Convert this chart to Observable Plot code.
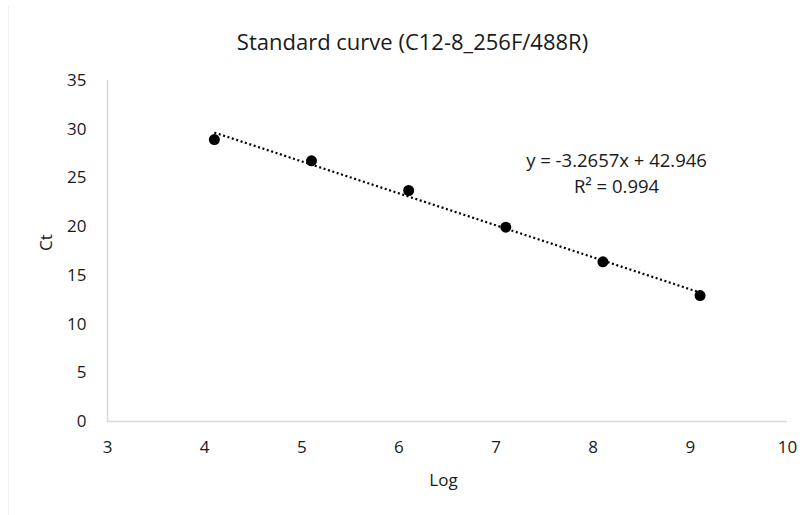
<!DOCTYPE html>
<html>
<head>
<meta charset="utf-8">
<script src="https://cdn.jsdelivr.net/npm/d3@7"></script>
<script src="https://cdn.jsdelivr.net/npm/@observablehq/plot@0.6"></script>
<style>
  html, body { margin: 0; padding: 0; background: #fff; }
  #wrap { position: relative; width: 809px; height: 515px; }
  #wrap::before { content: ""; position: absolute; left: 8px; top: 6px; bottom: 0; width: 1px; background: #efefef; }
  svg { display: block; font-family: "Open Sans", sans-serif; }
</style>
</head>
<body>
<div id="wrap"></div>
<script>
const logValues = [4.1, 5.1, 6.1, 7.1, 8.1, 9.1];
const ctValues = [28.94, 26.76, 23.71, 19.94, 16.39, 12.93];
const xTicks = [3, 4, 5, 6, 7, 8, 9, 10];
const yTicks = [0, 5, 10, 15, 20, 25, 30, 35];
const titleText = "Standard curve (C12-8_256F/488R)";
const equationLines = ["y = -3.2657x + 42.946", "R² = 0.994"];
const equationPos = [{x: 8.24, y: 26.7}, {x: 8.24, y: 24.1}];

const data = logValues.map((x, i) => ({x, y: ctValues[i]}));
const eqData = equationLines.map((t, i) => ({text: t, ...equationPos[i]}));

const chart = Plot.plot({
  width: 809,
  height: 515,
  marginLeft: 107,
  marginRight: 22,
  marginTop: 80,
  marginBottom: 94,
  style: {fontFamily: "Open Sans, sans-serif", fontSize: "17px", color: "#1a1a1a", background: "transparent"},
  x: {domain: [3, 10], label: null},
  y: {domain: [0, 35], label: null},
  marks: [
    Plot.ruleX([3], {stroke: "#d9d9d9", strokeWidth: 1.5}),
    Plot.ruleY([0], {stroke: "#d9d9d9", strokeWidth: 1.5}),
    Plot.axisX({ticks: xTicks, tickFormat: d3.format("d"), tickSize: 0, tickPadding: 19, fontSize: 17, fill: "#1a1a1a", label: null}),
    Plot.axisY({ticks: yTicks, tickFormat: d3.format("d"), tickSize: 0, tickPadding: 21, fontSize: 17, fill: "#1a1a1a", label: null}),
    Plot.linearRegressionY(data, {x: "x", y: "y", ci: 0, stroke: "#000", strokeWidth: 2.2, strokeDasharray: "2 2.6", strokeLinecap: "butt"}),
    Plot.dot(data, {x: "x", y: "y", r: 5.5, fill: "#000", stroke: "none"}),
    Plot.text(eqData, {x: "x", y: "y", text: "text", fontSize: 18.5, fill: "#1a1a1a", textAnchor: "middle"}),
    Plot.text([titleText], {frameAnchor: "top", lineAnchor: "middle", dx: -35, dy: -38, fontSize: 22, fill: "#1a1a1a"}),
    Plot.text(["Log"], {frameAnchor: "bottom", lineAnchor: "middle", dx: -4, dy: 59, fontSize: 17, fill: "#1a1a1a"}),
    Plot.text(["Ct"], {frameAnchor: "left", dx: -61, rotate: -90, fontSize: 17, fill: "#1a1a1a"})
  ]
});
document.getElementById("wrap").appendChild(chart);
</script>
</body>
</html>
